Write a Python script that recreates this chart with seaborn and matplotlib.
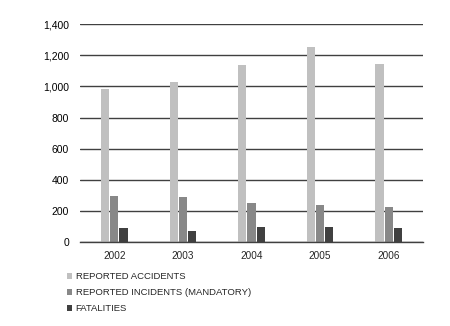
import matplotlib
matplotlib.use("Agg")
import matplotlib.pyplot as plt
import seaborn as sns
import pandas as pd
from matplotlib.ticker import FuncFormatter, FixedLocator, NullFormatter
from matplotlib.patches import Patch

years = ["2002", "2003", "2004", "2005", "2006"]
accidents = [985, 1030, 1138, 1254, 1144]
incidents = [297, 291, 250, 238, 225]
fatalities = [92, 75, 98, 98, 92]
series = ["REPORTED ACCIDENTS", "REPORTED INCIDENTS (MANDATORY)", "FATALITIES"]
colors = ["#c0c0c0", "#888888", "#404040"]

rows = []
for name, vals in zip(series, [accidents, incidents, fatalities]):
    for y, v in zip(years, vals):
        rows.append({"year": y, "value": v, "series": name})
df = pd.DataFrame(rows)

sns.set_style("white")
plt.rcParams["font.family"] = ["Liberation Sans", "DejaVu Sans"]

fig = plt.figure(figsize=(4.5, 3.26), dpi=100)
ax = fig.add_axes([80/450, 1 - 242.3/326, 343/450, 218.3/326])
sns.barplot(data=df, x="year", y="value", hue="series", palette=colors,
            width=0.4, gap=0.1, ax=ax, legend=False, saturation=1, edgecolor="none")
ax.set_ylim(0, 1400)
ax.set_xlim(-0.5, 4.5)
ax.set_yticks(range(0, 1401, 200))
ax.yaxis.set_major_formatter(FuncFormatter(lambda v, p: f"{int(v):,}"))
ax.grid(axis="y", color="#404040", linewidth=1)
ax.set_axisbelow(True)
for s in ["top", "right", "left"]:
    ax.spines[s].set_visible(False)
ax.spines["bottom"].set_color("#404040")
ax.spines["bottom"].set_linewidth(1)
ax.set_xlabel("")
ax.set_ylabel("")
ax.tick_params(axis="y", length=0, labelsize=7.5, pad=8, colors="black")
ax.xaxis.set_major_locator(FixedLocator([-0.5, 0.5, 1.5, 2.5, 3.5, 4.5]))
ax.xaxis.set_major_formatter(NullFormatter())
ax.xaxis.set_minor_locator(FixedLocator(range(5)))
ax.set_xticklabels(years, minor=True)
ax.tick_params(axis="x", which="major", length=4, color="#404040", direction="out")
ax.tick_params(axis="x", which="minor", length=0, labelsize=7.2, pad=6)

handles = [Patch(facecolor=c, edgecolor="none", label=s) for s, c in zip(series, colors)]
fig.legend(handles=handles, loc="upper left", bbox_to_anchor=(67/450, 1 - 272/326),
           frameon=False, fontsize=6.8, handlelength=0.55, handleheight=0.55,
           handletextpad=0.35, labelspacing=0.75, borderaxespad=0, borderpad=0)

fig.savefig("out.png", dpi=100)
